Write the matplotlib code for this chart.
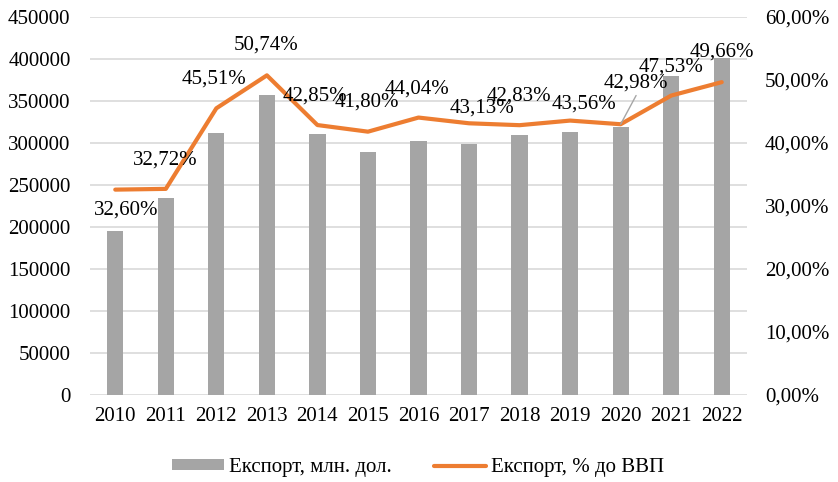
import numpy as np
import matplotlib
matplotlib.use("Agg")
import matplotlib.pyplot as plt
from matplotlib.ticker import FuncFormatter

plt.rcParams["font.family"] = ["Liberation Serif", "DejaVu Serif"]

# -----------------------------
# Data
# -----------------------------

years = ["2010", "2011", "2012", "2013", "2014", "2015", "2016",
         "2017", "2018", "2019", "2020", "2021", "2022"]

export_mln = [195000, 234000, 312000, 357000, 311000, 289000, 302000,
              299000, 310000, 313500, 319000, 379500, 401000]

export_gdp = [32.60, 32.72, 45.51, 50.74, 42.85, 41.80, 44.04,
              43.13, 42.83, 43.56, 42.98, 47.53, 49.66]

# label offsets in pixels (dx, dy up)
label_offsets = [(11, -20), (-1, 29), (-2, 29), (-1, 30), (-2, 29), (-1, 30), (-1, 29),
                 (13, 15), (-1, 29), (14, 17), (15, 41), (0, 29), (0, 30)]

# -----------------------------
# Plot
# -----------------------------

fig = plt.figure(figsize=(8.38, 4.82), dpi=100)
ax = fig.add_axes([0.1074, 0.1805, 0.784, 0.7842])

x = np.arange(len(years))

ax.bar(x, export_mln, width=0.32, color="#a5a5a5", zorder=2,
       label="Експорт, млн. дол.")
ax.set_ylim(0, 450000)
ax.set_yticks(np.arange(0, 450001, 50000))
ax.set_xlim(-0.5, len(years) - 0.5)
ax.set_xticks(x)
ax.set_xticklabels(years)
ax.grid(axis="y", color="#d9d9d9", linewidth=1.2, zorder=0)
ax.set_axisbelow(True)
for s in ax.spines.values():
    s.set_visible(False)
ax.tick_params(axis="both", length=0, labelsize=15, colors="black")
ax.tick_params(axis="y", pad=14)
ax.tick_params(axis="x", pad=9)

ax2 = ax.twinx()
ax2.plot(x, export_gdp, color="#ed7d31", linewidth=3, zorder=3,
         solid_capstyle="round", label="Експорт, % до ВВП")
ax2.set_ylim(0, 60)
ax2.set_yticks(np.arange(0, 61, 10))
ax2.yaxis.set_major_formatter(FuncFormatter(lambda v, p: f"{v:.2f}%".replace(".", ",")))
for s in ax2.spines.values():
    s.set_visible(False)
ax2.tick_params(axis="y", length=0, labelsize=15, pad=13, colors="black")

for i, v in enumerate(export_gdp):
    dx, dy = label_offsets[i]
    txt = f"{v:.2f}%".replace(".", ",")
    if i == 10:
        ax2.annotate(txt, (x[i], v), xytext=(dx, dy), textcoords="offset pixels",
                     ha="center", va="center", fontsize=15,
                     arrowprops=dict(arrowstyle="-", color="#a6a6a6", lw=1,
                                     shrinkA=0, shrinkB=0, relpos=(0.53, 0)))
    else:
        ax2.annotate(txt, (x[i], v), xytext=(dx, dy), textcoords="offset pixels",
                     ha="center", va="center", fontsize=15)

h1, l1 = ax.get_legend_handles_labels()
h2, l2 = ax2.get_legend_handles_labels()
fig.legend(h1 + h2, l1 + l2, loc="center", bbox_to_anchor=(0.499, 0.03),
           ncol=2, frameon=False, fontsize=15, columnspacing=2.0,
           handlelength=2.5, handletextpad=0.25, handleheight=0.45)

plt.savefig("out.png", dpi=100)
